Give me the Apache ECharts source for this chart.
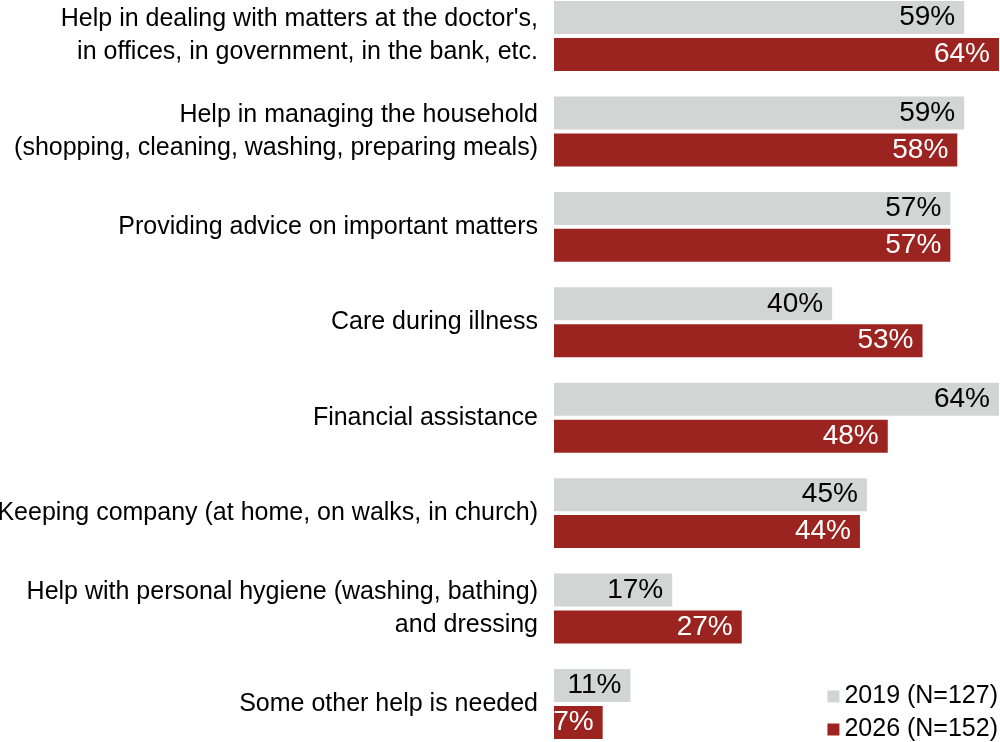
<!DOCTYPE html>
<html>
<head>
<meta charset="utf-8">
<script src="https://cdn.jsdelivr.net/npm/echarts@6/dist/echarts.min.js"></script>
<style>
  html, body { margin: 0; padding: 0; background: #fff; }
  #chart { width: 1000px; height: 742px; }
</style>
</head>
<body>
<div id="chart"></div>
<script>
// 类目（纵轴）
var categories = [
  "Help in dealing with matters at the doctor's,\nin offices, in government, in the bank, etc.",
  'Help in managing the household\n(shopping, cleaning, washing, preparing meals)',
  'Providing advice on important matters',
  'Care during illness',
  'Financial assistance',
  'Keeping company (at home, on walks, in church)',
  'Help with personal hygiene (washing, bathing)\nand dressing',
  'Some other help is needed'
];
// 两个年份的数据（%）
var values2019 = [59, 59, 57, 40, 64, 45, 17, 11];
var values2026 = [64, 58, 57, 53, 48, 44, 27, 7];
var seriesNames = ['2019 (N=127)', '2026 (N=152)'];

var chart = echarts.init(document.getElementById('chart'));

var font = 'Liberation Sans, Arial, sans-serif';

var option = {
  backgroundColor: '#ffffff',
  animation: false,
  textStyle: { fontFamily: font },
  legend: {
    orient: 'vertical',
    right: 2,
    bottom: 0,
    padding: 0,
    itemWidth: 12,
    itemHeight: 12,
    itemGap: 8,
    icon: 'rect',
    textStyle: { fontSize: 25, color: '#000', fontFamily: font },
    data: seriesNames
  },
  grid: {
    left: 554,
    right: 1,
    top: 36,
    bottom: 38,
    containLabel: false,
    outerBoundsMode: 'none' // 不要因为左侧长标签而挤压绘图区
  },
  xAxis: {
    type: 'value',
    min: 0,
    max: 64,
    show: false
  },
  yAxis: {
    type: 'category',
    inverse: true,
    boundaryGap: false, // 让每组柱子落在刻度点上
    data: categories,
    axisLine: { show: false },
    axisTick: { show: false },
    splitLine: { show: false },
    axisLabel: {
      margin: 16,
      fontSize: 25,
      lineHeight: 33,
      color: '#000',
      fontFamily: font,
      align: 'right'
    }
  },
  series: [
    {
      name: seriesNames[0],
      type: 'bar',
      data: values2019,
      barWidth: 33,
      barGap: '12%',
      itemStyle: { color: '#d3d4d4' },
      label: {
        show: true,
        position: 'insideRight',
        distance: 9,
        formatter: '{c}%',
        fontSize: 28,
        color: '#000',
        fontFamily: font
      }
    },
    {
      name: seriesNames[1],
      type: 'bar',
      data: values2026,
      barWidth: 33,
      barGap: '12%',
      itemStyle: { color: '#9b2421' },
      label: {
        show: true,
        position: 'insideRight',
        distance: 9,
        formatter: '{c}%',
        fontSize: 28,
        color: '#fff',
        fontFamily: font
      }
    }
  ]
};

chart.setOption(option);
</script>
</body>
</html>
